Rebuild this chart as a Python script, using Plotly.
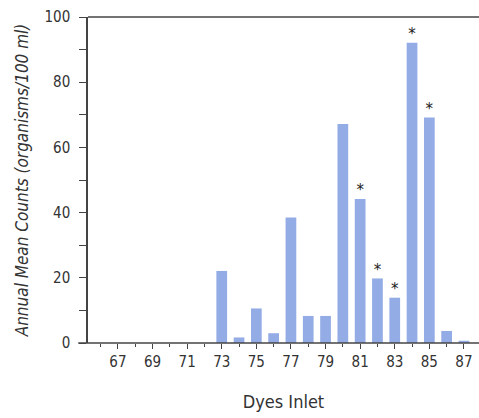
import plotly.graph_objects as go

years = [73, 74, 75, 76, 77, 78, 79, 80, 81, 82, 83, 84, 85, 86, 87]
counts = [22.1, 1.7, 10.6, 3.0, 38.5, 8.3, 8.3, 67.2, 44.2, 19.8, 13.9, 92.1, 69.2, 3.7, 0.7]
flags = ["", "", "", "", "", "", "", "", "*", "*", "*", "*", "*", "", ""]
tick_years = [67, 69, 71, 73, 75, 77, 79, 81, 83, 85, 87]
y_ticks = [0, 20, 40, 60, 80, 100]

font_narrow = "DejaVu Sans Condensed, Liberation Sans Narrow, sans-serif"
axis_col = "#444444"

fig = go.Figure()
fig.add_trace(go.Bar(
    x=years, y=counts, width=0.62,
    marker=dict(color="#93ace6", line=dict(width=0)),
    hoverinfo="x+y",
))
fig.add_trace(go.Scatter(
    x=years, y=counts, mode="text", text=flags,
    textposition="top center",
    textfont=dict(family="DejaVu Sans", size=15, color="#222222"),
    cliponaxis=False, hoverinfo="skip",
))

fig.update_layout(
    width=479, height=418,
    margin=dict(l=88, r=0, t=17, b=75),
    paper_bgcolor="white", plot_bgcolor="white",
    showlegend=False,
    font=dict(family=font_narrow, color="#333333"),
    xaxis=dict(
        range=[65.27, 87.87],
        tickmode="array", tickvals=tick_years,
        ticktext=[str(t) for t in tick_years],
        ticks="outside", ticklen=5, tickwidth=1.3, tickcolor=axis_col,
        minor=dict(tickmode="array", tickvals=[66, 68, 70, 72, 74, 76, 78, 80, 82, 84, 86],
                   ticks="outside", ticklen=3, tickwidth=1, tickcolor=axis_col),
        showline=False, showgrid=False, zeroline=False,
        tickfont=dict(family=font_narrow, size=15, color="#333333"),
        title=dict(text="Dyes Inlet", font=dict(family=font_narrow, size=18, color="#333333"),
                   standoff=25),
    ),
    yaxis=dict(
        range=[0, 100],
        tickmode="array", tickvals=y_ticks,
        ticks="outside", ticklen=7, tickwidth=1.3, tickcolor=axis_col,
        minor=dict(tickmode="array", tickvals=[10, 30, 50, 70, 90],
                   ticks="outside", ticklen=7, tickwidth=1.3, tickcolor=axis_col),
        showline=True, linecolor=axis_col, linewidth=1.5,
        showgrid=False, zeroline=False,
        ticklabelstandoff=6,
        tickfont=dict(family=font_narrow, size=15, color="#333333"),
        title=dict(text="<i>Annual Mean Counts (organisms/100 ml)</i>",
                   font=dict(family=font_narrow, size=17, color="#333333"),
                   standoff=12),
    ),
    shapes=[
        dict(type="line", xref="paper", yref="paper", x0=-0.025, x1=1, y0=0, y1=0,
             line=dict(color=axis_col, width=1.5), layer="above"),
        dict(type="line", xref="paper", yref="paper", x0=0, x1=1, y0=1, y1=1,
             line=dict(color=axis_col, width=1.5), layer="above"),
    ],
)

fig.write_html("out.html")
